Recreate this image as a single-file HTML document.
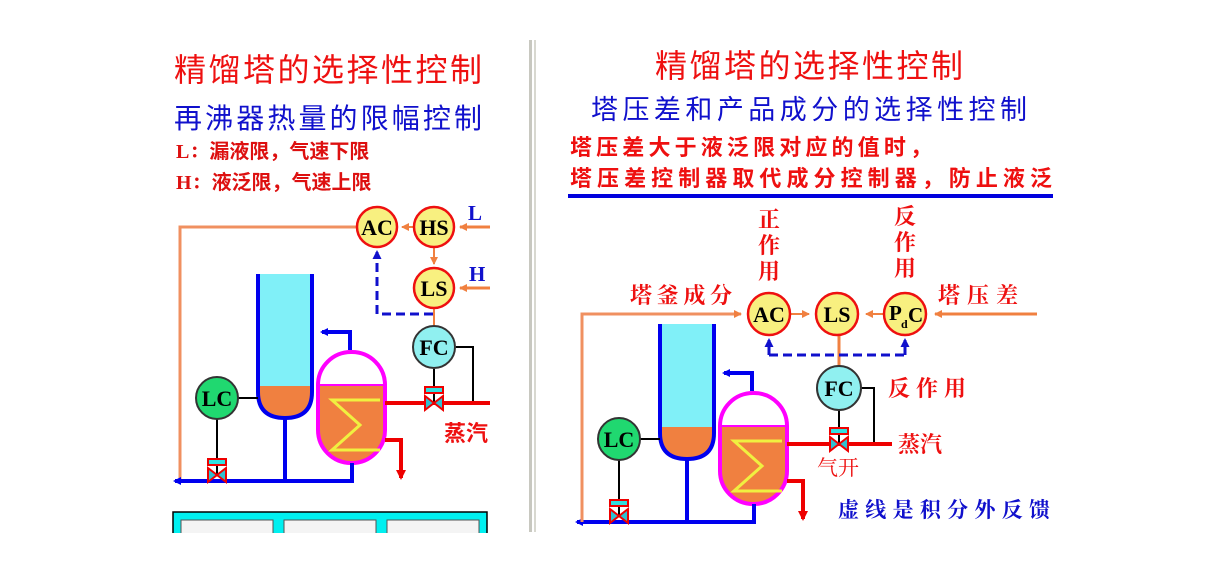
<!DOCTYPE html>
<html><head><meta charset="utf-8"><style>
html,body{margin:0;padding:0;background:#fff;}
svg{display:block;}
text{font-family:"Liberation Serif","Noto Serif CJK SC","Noto Sans CJK SC",serif;}
.cj{font-family:"Liberation Sans","Noto Sans CJK SC",sans-serif;}
.ct{font-size:22px;font-weight:bold;}
</style></head><body>
<svg width="1227" height="571" viewBox="0 0 1227 571" xmlns="http://www.w3.org/2000/svg">
<defs>
<marker id="ab" markerWidth="8" markerHeight="8" refX="6" refY="4" orient="auto" markerUnits="userSpaceOnUse"><path d="M0,0 L8,4 L0,8 Z" fill="#0000ee"/></marker>
<marker id="ar" markerWidth="10" markerHeight="10" refX="8" refY="5" orient="auto" markerUnits="userSpaceOnUse"><path d="M0,0 L10,5 L0,10 Z" fill="#ee0000"/></marker>
<marker id="ao" markerWidth="8" markerHeight="8" refX="7" refY="4" orient="auto" markerUnits="userSpaceOnUse"><path d="M0,0 L8,4 L0,8 Z" fill="#f08040"/></marker>
<marker id="adb" markerWidth="9" markerHeight="9" refX="7" refY="4.5" orient="auto" markerUnits="userSpaceOnUse"><path d="M0,0 L9,4.5 L0,9 Z" fill="#1010cc"/></marker>
<clipPath id="hc"><rect x="318" y="352" width="67" height="111" rx="33" ry="33"/></clipPath>
<g id="valve">
  <line x1="0" y1="-14" x2="0" y2="0" stroke="#000" stroke-width="2"/>
  <rect x="-9" y="-16" width="18" height="6" fill="#30e0e0" stroke="#e00" stroke-width="2"/>
  <path d="M-9,-7 L-9,7 L0,0 Z M9,-7 L9,7 L0,0 Z" fill="#30c0d0" stroke="#e00" stroke-width="2"/>
</g>
<g id="equip">
  <rect x="258" y="274" width="54" height="112" fill="#80f0f8"/>
  <path d="M258,386 V392 Q258,418 285,418 Q312,418 312,392 V386 Z" fill="#f08040"/>
  <path d="M258,274 V392 Q258,418 285,418 Q312,418 312,392 V274" fill="none" stroke="#0000ee" stroke-width="4"/>
  <line x1="285" y1="418" x2="285" y2="481" stroke="#0000ee" stroke-width="4"/>
  <g clip-path="url(#hc)"><rect x="318" y="352" width="67" height="111" fill="#fff"/><rect x="318" y="385" width="67" height="80" fill="#f08040"/></g>
  <line x1="318" y1="385" x2="385" y2="385" stroke="#ff00ff" stroke-width="2"/>
  <rect x="318" y="352" width="67" height="111" rx="33" ry="33" fill="none" stroke="#ff00ff" stroke-width="4"/>
  <polyline points="380,400 332,400 360,425 332,450 380,450" fill="none" stroke="#f0f040" stroke-width="3"/>
  <path d="M350,350 V332 H322" fill="none" stroke="#0000ee" stroke-width="4" marker-end="url(#ab)"/>
  <path d="M385,440 H401 V478" fill="none" stroke="#ee0000" stroke-width="4" marker-end="url(#ar)"/>
  <path d="M352,463 V481 H175" fill="none" stroke="#0000ee" stroke-width="4" marker-end="url(#ab)"/>
  <line x1="238" y1="398" x2="258" y2="398" stroke="#000" stroke-width="2"/>
  <line x1="217" y1="419" x2="217" y2="466" stroke="#000" stroke-width="2"/>
  <use href="#valve" x="217" y="475"/>
  <circle cx="217" cy="398" r="21" fill="#20d870" stroke="#333" stroke-width="2"/>
  <text class="ct" x="217" y="406" text-anchor="middle" fill="#000">LC</text>
</g>
</defs>

<rect x="529" y="40" width="3" height="492" fill="#c8c8c0"/>
<rect x="534" y="40" width="2" height="492" fill="#d8d8d0"/>

<text class="cj" x="174" y="81" font-size="32" fill="#ee1010" textLength="308">精馏塔的选择性控制</text>
<text class="cj" x="174" y="128" font-size="28" fill="#1010cc" textLength="308">再沸器热量的限幅控制</text>
<text x="176" y="158" font-size="20" font-weight="bold" fill="#dd1010">L：<tspan class="cj">漏液限，气速下限</tspan></text>
<text x="176" y="189" font-size="20" font-weight="bold" fill="#dd1010">H：<tspan class="cj">液泛限，气速上限</tspan></text>

<path d="M357,227 H180 V480" fill="none" stroke="#f09060" stroke-width="3"/>
<use href="#equip"/>
<path d="M490,227 H460" stroke="#f08040" stroke-width="3" marker-end="url(#ao)"/>
<path d="M490,288 H460" stroke="#f08040" stroke-width="3" marker-end="url(#ao)"/>
<path d="M414,227 H402" stroke="#f08040" stroke-width="2" marker-end="url(#ao)"/>
<path d="M434,247 V264" stroke="#f08040" stroke-width="2" marker-end="url(#ao)"/>
<line x1="434" y1="308" x2="434" y2="325" stroke="#f08040" stroke-width="2"/>
<path d="M433,314 H377 V252" fill="none" stroke="#1010cc" stroke-width="3" stroke-dasharray="9,5" marker-end="url(#adb)"/>
<path d="M456,347 H473 V403" fill="none" stroke="#000" stroke-width="2"/>
<line x1="385" y1="403" x2="490" y2="403" stroke="#ee0000" stroke-width="4"/>
<line x1="434" y1="369" x2="434" y2="392" stroke="#000" stroke-width="2"/>
<use href="#valve" x="434" y="403"/>
<circle cx="377" cy="227" r="20" fill="#f8f080" stroke="#ee1010" stroke-width="2.5"/>
<text class="ct" x="377" y="235" text-anchor="middle">AC</text>
<circle cx="434" cy="227" r="20" fill="#f8f080" stroke="#ee1010" stroke-width="2.5"/>
<text class="ct" x="434" y="235" text-anchor="middle">HS</text>
<circle cx="434" cy="288" r="20" fill="#f8f080" stroke="#ee1010" stroke-width="2.5"/>
<text class="ct" x="434" y="296" text-anchor="middle">LS</text>
<circle cx="434" cy="347" r="21" fill="#90f0f0" stroke="#333" stroke-width="2"/>
<text class="ct" x="434" y="355" text-anchor="middle">FC</text>
<text x="468" y="220" font-size="21" font-weight="bold" fill="#1010cc">L</text>
<text x="469" y="281" font-size="21" font-weight="bold" fill="#1010cc">H</text>
<text class="cj" x="444" y="441" font-size="22" font-weight="bold" fill="#ee1010">蒸汽</text>

<rect x="173" y="512" width="314" height="22" fill="#00f0f0" stroke="#000" stroke-width="1.5"/>
<rect x="181" y="520" width="92" height="14" fill="#f4f4f4" stroke="#555"/>
<rect x="284" y="520" width="92" height="14" fill="#f4f4f4" stroke="#555"/>
<rect x="387" y="520" width="92" height="14" fill="#f4f4f4" stroke="#555"/>
<rect x="0" y="533" width="1227" height="38" fill="#fff"/>

<text class="cj" x="655" y="77" font-size="32" fill="#ee1010" textLength="308">精馏塔的选择性控制</text>
<text class="cj" x="591" y="119" font-size="27" fill="#1010cc" textLength="436">塔压差和产品成分的选择性控制</text>
<text class="cj" x="570" y="155" font-size="22" font-weight="bold" fill="#ee1010" textLength="362">塔压差大于液泛限对应的值时，</text>
<text class="cj" x="570" y="186" font-size="22" font-weight="bold" fill="#ee1010" textLength="482">塔压差控制器取代成分控制器，防止液泛</text>
<rect x="568" y="194" width="485" height="4" fill="#0000dd"/>

<g transform="translate(402,41)"><use href="#equip"/></g>
<rect x="655" y="313" width="64" height="11" fill="#fff"/>
<path d="M582,522 V314 H741" fill="none" stroke="#f09060" stroke-width="3" marker-end="url(#ao)"/>
<path d="M1037,314 H935" stroke="#f08040" stroke-width="3" marker-end="url(#ao)"/>
<path d="M791,314 H809" stroke="#f08040" stroke-width="2" marker-end="url(#ao)"/>
<path d="M883,314 H866" stroke="#f08040" stroke-width="2" marker-end="url(#ao)"/>
<line x1="839" y1="336" x2="839" y2="367" stroke="#f08040" stroke-width="3"/>
<path d="M769,355 H905" fill="none" stroke="#1010cc" stroke-width="3" stroke-dasharray="9,5"/>
<path d="M769,355 V340" stroke="#1010cc" stroke-width="3" marker-end="url(#adb)"/>
<path d="M905,355 V340" stroke="#1010cc" stroke-width="3" marker-end="url(#adb)"/>
<path d="M861,388 H874 V444" fill="none" stroke="#000" stroke-width="2"/>
<line x1="787" y1="444" x2="892" y2="444" stroke="#ee0000" stroke-width="4"/>
<line x1="839" y1="410" x2="839" y2="433" stroke="#000" stroke-width="2"/>
<use href="#valve" x="839" y="444"/>
<circle cx="769" cy="314" r="21" fill="#f8f080" stroke="#ee1010" stroke-width="2.5"/>
<text class="ct" x="769" y="322" text-anchor="middle">AC</text>
<circle cx="837" cy="314" r="21" fill="#f8f080" stroke="#ee1010" stroke-width="2.5"/>
<text class="ct" x="837" y="322" text-anchor="middle">LS</text>
<circle cx="905" cy="314" r="21" fill="#f8f080" stroke="#ee1010" stroke-width="2.5"/>
<text x="889" y="320" font-size="21" font-weight="bold">P</text><text x="901" y="328" font-size="12" font-weight="bold">d</text><text x="908" y="322" font-size="21" font-weight="bold">C</text>
<circle cx="839" cy="388" r="22" fill="#90f0f0" stroke="#333" stroke-width="2"/>
<text class="ct" x="839" y="396" text-anchor="middle">FC</text>
<g class="cj" font-weight="bold" fill="#ee1010" font-size="22">
<text x="630" y="303" textLength="102">塔釜成分</text>
<text x="938" y="303" textLength="80">塔压差</text>
<text x="758" y="227">正</text><text x="758" y="253">作</text><text x="758" y="279">用</text>
<text x="894" y="224">反</text><text x="894" y="250">作</text><text x="894" y="276">用</text>
<text x="888" y="396" textLength="78">反作用</text>
<text x="898" y="452">蒸汽</text>
<text x="817" y="475" font-size="21" font-weight="normal">气开</text>
<text x="838" y="517" font-size="21" fill="#1010cc" textLength="212">虚线是积分外反馈</text>
</g>
</svg>
</body></html>
